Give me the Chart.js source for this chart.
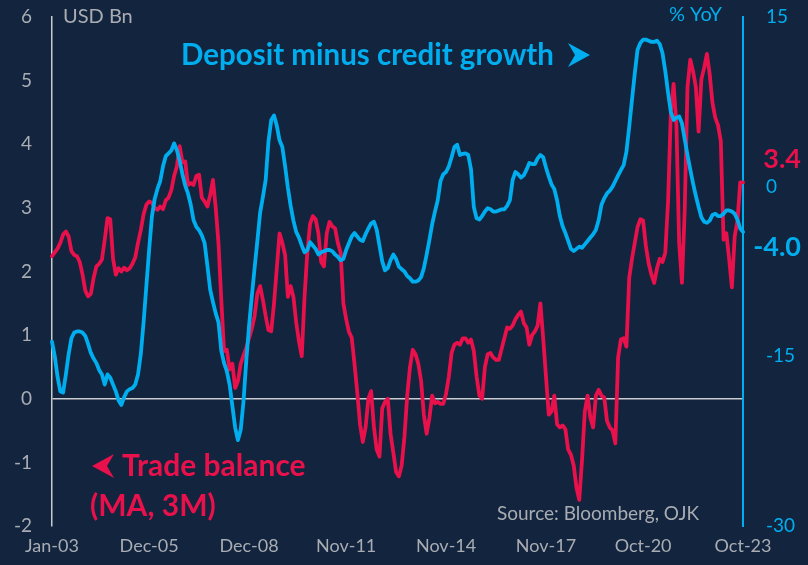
<!DOCTYPE html>
<html>
<head>
<meta charset="utf-8">
<script src="https://cdn.jsdelivr.net/npm/chart.js@4.4.1/dist/chart.umd.min.js"></script>
<style>
  html, body { margin: 0; padding: 0; background: #12243e; }
  #wrap { width: 808px; height: 565px; }
</style>
</head>
<body>
<div id="wrap"><canvas id="chart" width="808" height="565"></canvas></div>
<script>
// Indonesia: trade balance (USD bn, 3M moving average) vs deposit minus credit growth (% YoY)
// monthly, Jan-03 .. Oct-23

const tickLabels = ['Jan-03', 'Dec-05', 'Dec-08', 'Nov-11', 'Nov-14', 'Nov-17', 'Oct-20', 'Oct-23'];

const tradeBalance = [
  2.24, 2.30, 2.36, 2.45, 2.58, 2.63, 2.55, 2.32, 2.26, 2.24, 2.15, 1.95,   // 2003
  1.70, 1.61, 1.65, 1.90, 2.08, 2.12, 2.19, 2.50, 2.84, 2.82, 2.20, 1.95,   // 2004
  2.05, 2.00, 2.06, 2.02, 2.05, 2.12, 2.22, 2.45, 2.65, 2.90, 3.05, 3.10,   // 2005
  3.08, 3.00, 2.97, 3.02, 2.98, 3.12, 3.16, 3.28, 3.50, 3.65, 3.97, 3.72,   // 2006
  3.73, 3.36, 3.39, 3.36, 3.50, 3.52, 3.16, 3.10, 3.02, 3.20, 3.44, 3.00,   // 2007
  2.44, 1.56, 0.75, 0.77, 0.46, 0.55, 0.17, 0.28, 0.55, 0.68, 0.80, 0.95,   // 2008
  1.10, 1.30, 1.65, 1.77, 1.55, 1.30, 1.08, 1.06, 1.50, 2.05, 2.60, 2.45,   // 2009
  2.26, 1.60, 1.77, 1.60, 1.20, 0.90, 0.67, 1.60, 2.30, 2.75, 2.87, 2.82,   // 2010
  2.60, 2.15, 2.08, 2.60, 2.78, 2.71, 2.68, 2.45, 2.30, 1.50, 1.25, 1.05,   // 2011
  0.96, 0.55, 0.10, -0.40, -0.68, -0.45, 0.00, 0.12, -0.44, -0.80, -0.91, -0.15, // 2012
  -0.05, 0.00, -0.55, -0.85, -1.15, -1.22, -1.05, -0.60, 0.05, 0.50, 0.77, 0.70, // 2013
  0.55, 0.28, -0.25, -0.55, -0.30, 0.05, -0.07, -0.05, -0.08, -0.08, 0.08, 0.35, // 2014
  0.72, 0.85, 0.88, 0.85, 0.95, 0.95, 0.88, 0.93, 0.75, 0.35, 0.05, 0.00,   // 2015
  0.50, 0.70, 0.72, 0.65, 0.61, 0.61, 0.78, 0.95, 1.12, 1.10, 1.15, 1.25,   // 2016
  1.32, 1.37, 1.19, 1.12, 0.85, 1.00, 1.06, 1.15, 1.50, 0.95, 0.35, -0.25,  // 2017
  -0.20, 0.05, -0.40, -0.45, -0.42, -0.48, -0.80, -0.88, -1.05, -1.40, -1.59, -0.96, // 2018
  -0.20, 0.05, -0.30, -0.45, 0.05, 0.14, 0.05, 0.02, -0.35, -0.45, -0.50, -0.70, // 2019
  0.65, 0.93, 0.95, 0.82, 1.90, 2.20, 2.45, 2.70, 2.82, 2.80, 2.40, 2.13,   // 2020
  1.95, 1.82, 2.05, 2.20, 2.15, 2.30, 3.10, 4.50, 4.95, 4.30, 2.45, 1.82,   // 2021
  2.97, 4.90, 5.33, 5.15, 4.90, 4.20, 5.02, 5.20, 5.42, 5.10, 4.65, 4.42,   // 2022
  4.30, 4.05, 2.50, 2.60, 2.20, 1.75, 2.55, 2.80, 3.40, 3.40                // 2023
];

const depositMinusCredit = [
  -13.7, -15.0, -16.8, -18.1, -18.2, -16.6, -14.8, -13.4, -12.9, -12.8, -12.8, -12.9, // 2003
  -13.2, -13.9, -14.7, -15.2, -15.6, -16.2, -16.6, -17.5, -16.6, -16.9, -17.5, -18.1, // 2004
  -18.9, -19.3, -18.6, -18.1, -17.9, -17.8, -17.5, -16.6, -14.8, -12.0, -8.8, -5.6,   // 2005
  -2.65, -1.1, -0.2, 0.5, 1.8, 2.7, 2.95, 3.2, 3.83, 3.24, 2.3, 1.1,                  // 2006
  0.1, -0.6, -1.6, -2.95, -3.54, -3.85, -4.3, -5.0, -7.0, -9.1, -10.2, -11.2,         // 2007
  -12.0, -14.5, -15.6, -16.3, -17.5, -19.4, -21.3, -22.4, -21.5, -19.0, -15.4, -12.3, // 2008
  -9.7, -7.2, -4.8, -2.3, -0.9, 0.6, 4.0, 5.9, 6.3, 5.4, 4.1, 3.5,                    // 2009
  1.8, -0.1, -1.7, -3.0, -4.0, -4.5, -5.2, -5.8, -5.6, -4.9, -5.2, -5.5,              // 2010
  -6.0, -5.8, -5.7, -5.6, -5.6, -5.7, -6.0, -6.2, -6.5, -6.4, -5.6, -5.0,             // 2011
  -4.4, -4.1, -4.4, -4.7, -4.8, -4.2, -3.7, -3.24, -3.1, -3.8, -5.2, -6.6,            // 2012
  -7.4, -7.2, -6.5, -6.0, -6.4, -7.07, -7.3, -7.5, -7.9, -8.1, -8.4, -8.4,            // 2013
  -8.3, -8.0, -7.2, -6.0, -4.7, -3.3, -2.2, -1.2, 0.5, 1.1, 1.3, 1.8,                 // 2014
  2.6, 3.5, 3.7, 2.8, 2.9, 2.95, 2.8, 1.5, -1.8, -2.8, -2.9, -2.6,                    // 2015
  -2.2, -1.9, -2.0, -2.2, -2.2, -2.1, -2.0, -2.0, -1.7, -1.2, 0.6, 1.3,               // 2016
  1.1, 0.8, 1.0, 1.5, 2.1, 2.0, 2.0, 2.5, 2.8, 2.6, 1.7, 0.9,                         // 2017
  0.2, -0.2, -1.2, -2.6, -3.5, -4.1, -4.8, -5.5, -5.7, -5.5, -5.3, -5.4,              // 2018
  -5.1, -4.8, -4.5, -4.2, -3.8, -2.95, -1.6, -1.03, -0.6, -0.35, 0.0, 0.5,            // 2019
  1.0, 1.47, 1.9, 3.1, 5.3, 7.7, 10.0, 12.1, 12.7, 13.0, 13.0, 12.9,                  // 2020
  12.8, 12.8, 12.9, 12.6, 11.8, 10.2, 8.3, 6.6, 5.9, 6.1, 6.2, 5.6,                   // 2021
  4.2, 2.8, 1.5, 0.3, -0.8, -1.8, -2.7, -3.1, -3.2, -3.0, -2.5, -2.4,                 // 2022
  -2.6, -2.6, -2.4, -2.1, -2.1, -2.2, -2.4, -2.9, -3.7, -4.0                          // 2023
];

const MONTHS = ['Jan', 'Feb', 'Mar', 'Apr', 'May', 'Jun', 'Jul', 'Aug', 'Sep', 'Oct', 'Nov', 'Dec'];
const months = tradeBalance.map((_, i) =>
  MONTHS[i % 12] + '-' + String(3 + Math.floor(i / 12)).padStart(2, '0'));

const RED = '#e8114b';
const BLUE = '#00aeef';
const GREY = '#a9adb3';
const FONT = 'Lato';

// filled chevron arrow, tip at (x, y); dir = 1 points right, -1 points left
function chevron(ctx, x, y, dir, color) {
  ctx.beginPath();
  ctx.moveTo(x, y);
  ctx.lineTo(x - dir * 22, y - 12);
  ctx.lineTo(x - dir * 15, y);
  ctx.lineTo(x - dir * 22, y + 12);
  ctx.closePath();
  ctx.fillStyle = color;
  ctx.fill();
}

// keep the plot edges fixed: no extra room for half tick labels
function fixVertical(width) {
  return s => {
    s.width = width;
    s.paddingTop = 0;
    s.paddingBottom = 0;
  };
}

const chartText = {
  id: 'chartText',
  afterDraw(chart) {
    const ctx = chart.ctx;
    const yL = chart.scales.y;
    const yR = chart.scales.y1;
    ctx.save();
    ctx.textBaseline = 'middle';

    ctx.font = '20px ' + FONT;
    ctx.textAlign = 'left';
    ctx.fillStyle = GREY;
    ctx.fillText('USD Bn', 63, 17);
    ctx.textAlign = 'right';
    ctx.fillStyle = BLUE;
    ctx.fillText('% YoY', 722, 15);

    ctx.font = 'bold 29.5px ' + FONT;
    ctx.textAlign = 'left';
    ctx.fillStyle = BLUE;
    ctx.fillText('Deposit minus credit growth', 181, 55);
    chevron(ctx, 590, 55, 1, BLUE);

    ctx.font = 'bold 30px ' + FONT;
    ctx.fillStyle = RED;
    ctx.fillText('Trade balance', 122, 466);
    ctx.fillText('(MA, 3M)', 90, 506);
    chevron(ctx, 92, 466, -1, RED);

    ctx.font = '19px ' + FONT;
    ctx.fillStyle = GREY;
    ctx.fillText('Source: Bloomberg, OJK', 497, 514);

    // latest readings beside the right axis
    const lastTrade = tradeBalance[tradeBalance.length - 1];
    const lastGap = depositMinusCredit[depositMinusCredit.length - 1];
    ctx.font = 'bold 27px ' + FONT;
    ctx.textAlign = 'right';
    ctx.fillStyle = RED;
    ctx.fillText(lastTrade.toFixed(1), 801, yL.getPixelForValue(lastTrade) - 23);
    ctx.fillStyle = BLUE;
    ctx.fillText(lastGap.toFixed(1), 801, yR.getPixelForValue(lastGap) + 15);
    ctx.restore();
  }
};

new Chart(document.getElementById('chart'), {
  type: 'line',
  data: {
    labels: months,
    datasets: [
      {
        label: 'Deposit minus credit growth',
        data: depositMinusCredit,
        yAxisID: 'y1',
        borderColor: BLUE,
        borderWidth: 3.8,
        order: 1
      },
      {
        label: 'Trade balance (MA, 3M)',
        data: tradeBalance,
        yAxisID: 'y',
        borderColor: RED,
        borderWidth: 3.8,
        order: 2
      }
    ]
  },
  options: {
    responsive: false,
    animation: false,
    events: [],
    layout: { padding: { top: 17 } },
    elements: {
      point: { radius: 0 },
      line: { tension: 0, borderJoinStyle: 'round', borderCapStyle: 'round' }
    },
    plugins: { legend: { display: false }, tooltip: { enabled: false } },
    scales: {
      x: {
        offset: false,
        afterFit: s => { s.height = 39; },
        grid: { display: false, drawTicks: false },
        border: { display: false },
        ticks: {
          autoSkip: false,
          maxRotation: 0,
          minRotation: 0,
          padding: 9,
          color: GREY,
          font: { family: FONT, size: 18 },
          callback: function (value) {
            const lab = this.getLabelForValue(value);
            return tickLabels.includes(lab) ? lab : null;
          }
        }
      },
      y: {
        position: 'left',
        min: -2,
        max: 6,
        afterFit: fixVertical(52),
        grid: {
          drawTicks: false,
          lineWidth: 1.5,
          color: c => (c.tick && c.tick.value === 0 ? '#c9cbce' : 'transparent')
        },
        border: { display: true, color: '#c9cbce', width: 1.5 },
        ticks: {
          stepSize: 1,
          padding: 20,
          color: GREY,
          font: { family: FONT, size: 19 }
        }
      },
      y1: {
        position: 'right',
        min: -30,
        max: 15,
        afterFit: fixVertical(65),
        grid: { display: false, drawTicks: false },
        border: { display: true, color: BLUE, width: 2 },
        ticks: {
          stepSize: 15,
          padding: 23,
          color: BLUE,
          font: { family: FONT, size: 19 }
        }
      }
    }
  },
  plugins: [chartText]
});
</script>
</body>
</html>
